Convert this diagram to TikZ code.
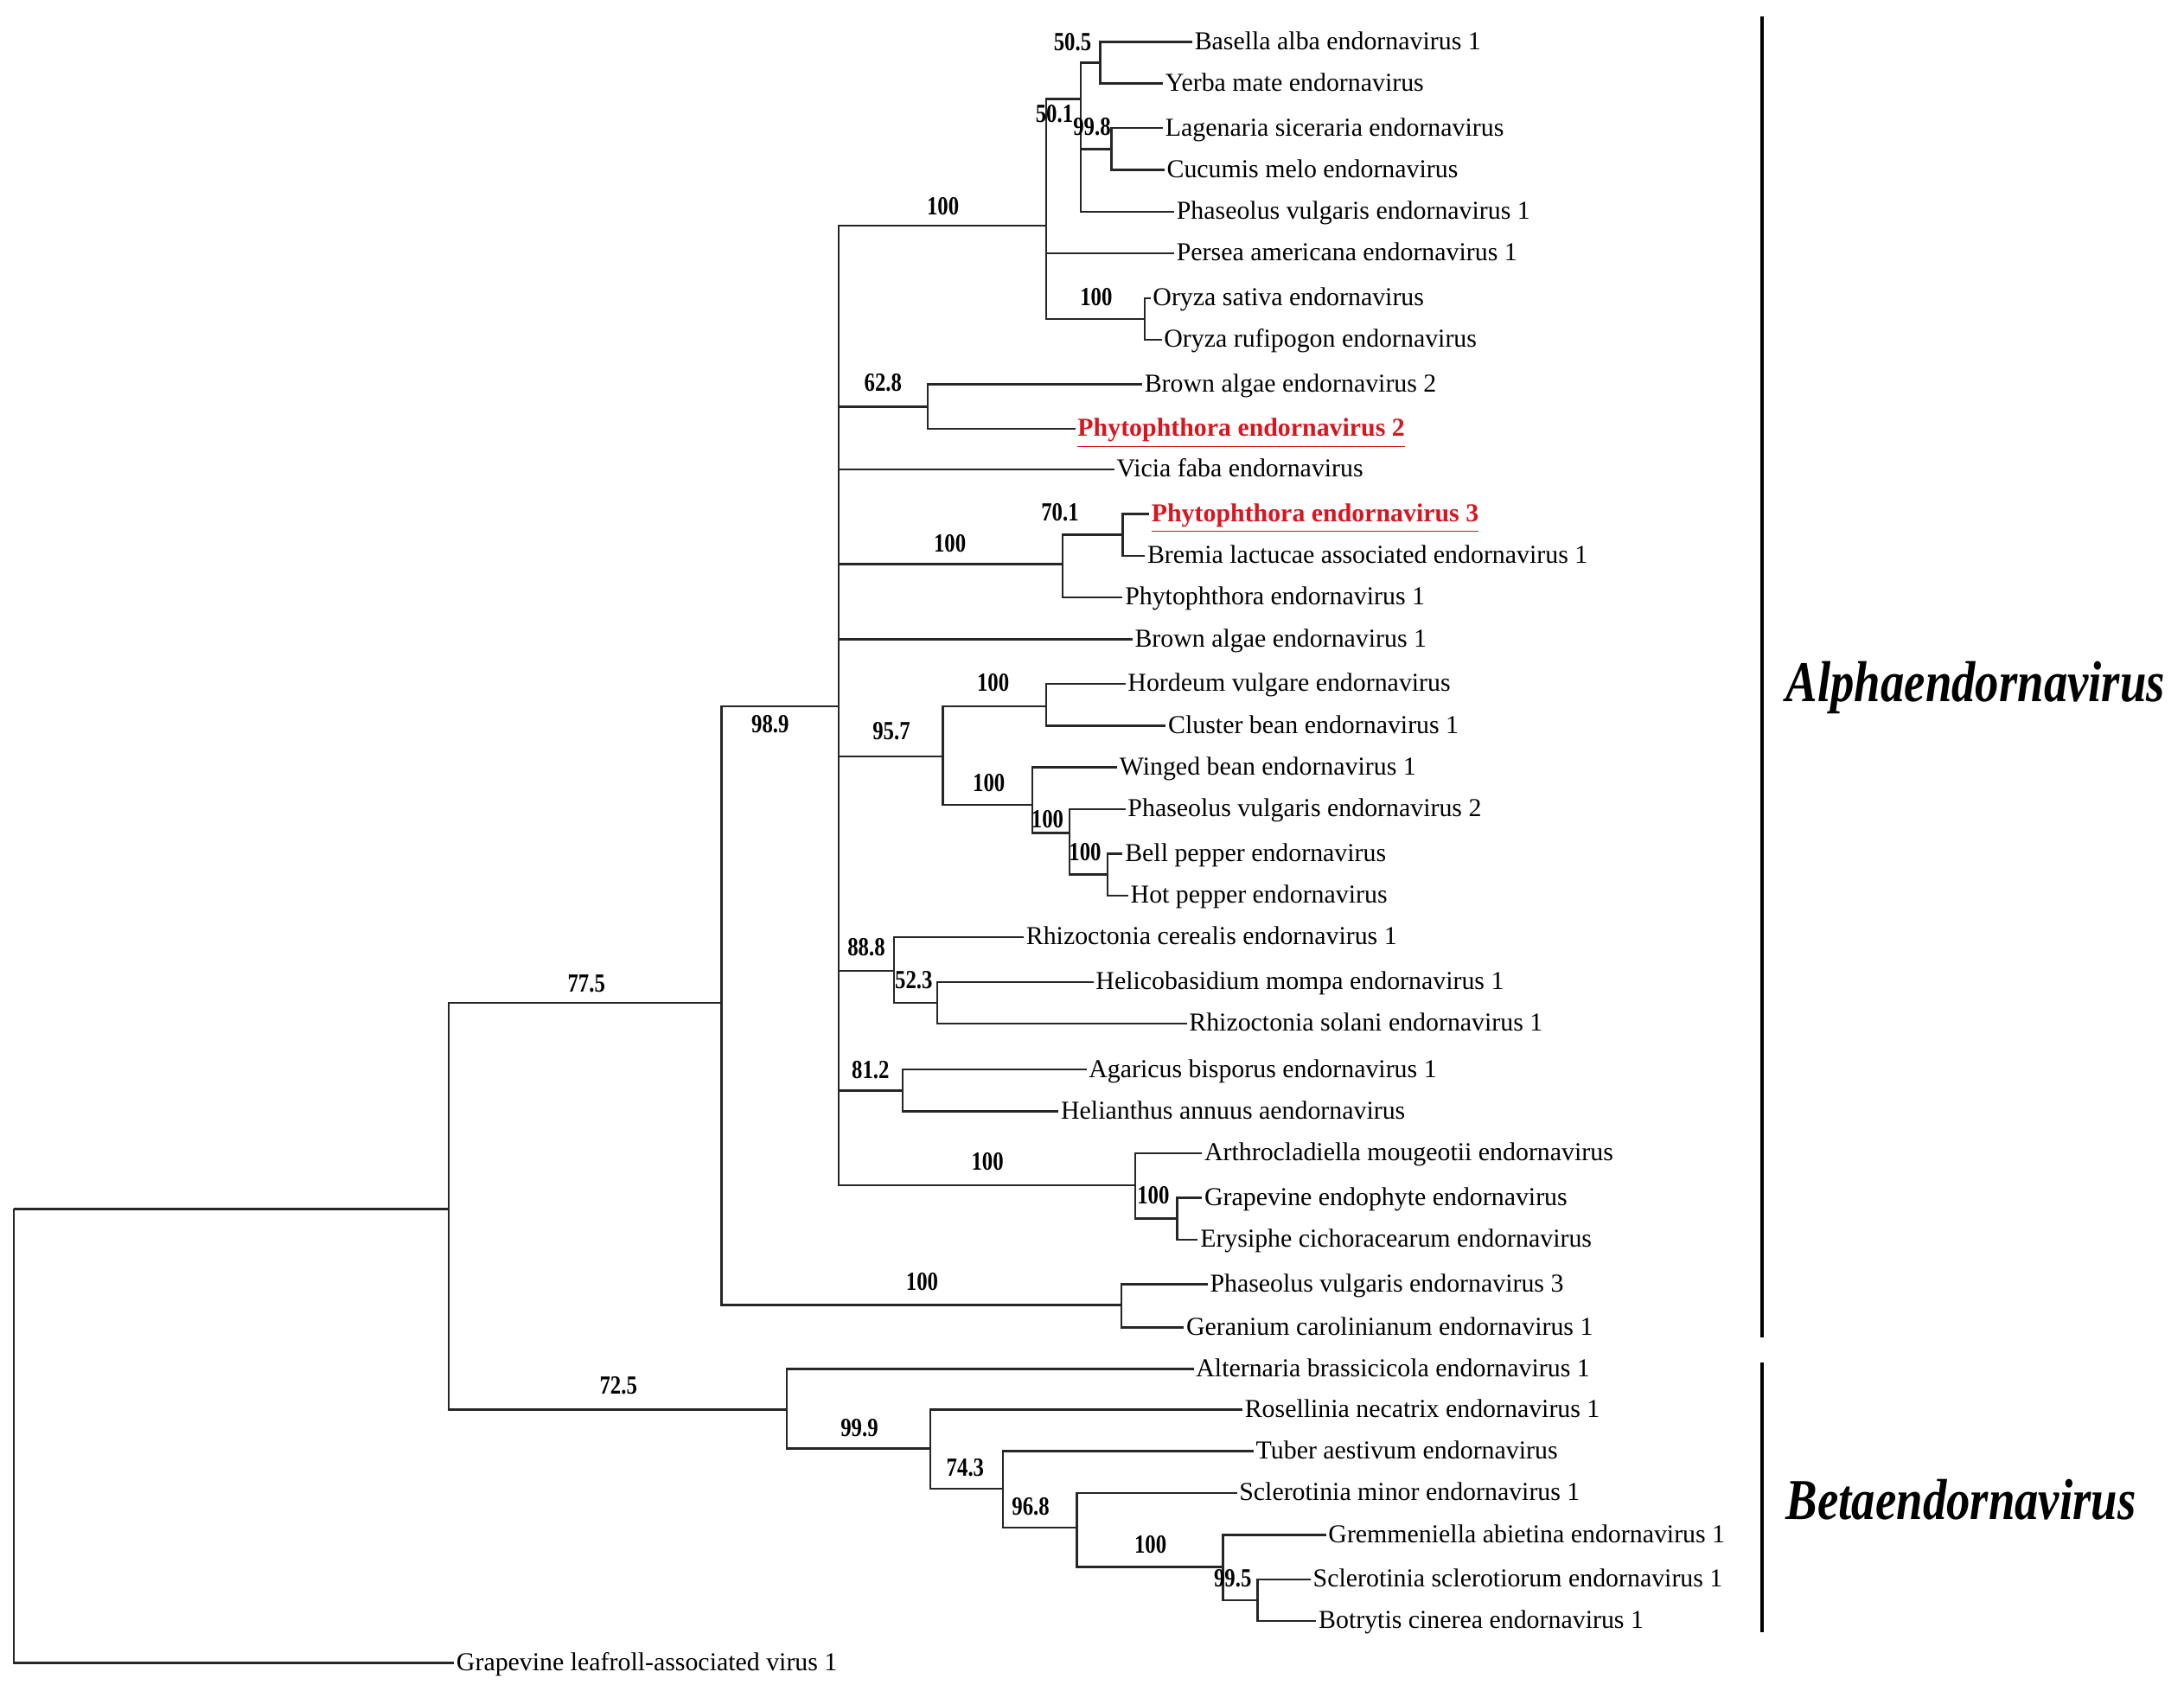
\documentclass[tikz,border=0pt]{standalone}
\usepackage{fontspec}
\setmainfont{Liberation Serif}
\definecolor{hl}{RGB}{215,22,30}
\begin{document}
\begin{tikzpicture}[x=0.01611cm,y=-0.01611cm,
  br/.style={draw=black!85,line width=0.7pt},
  leaf/.style={anchor=west,inner xsep=0.6pt,inner ysep=0pt,text height=0.7em,text depth=0.2em,font=\fontsize{8.5}{10}\selectfont},
  redleaf/.style={leaf,text=hl,font=\fontsize{8.5}{10}\selectfont\bfseries},
  bs/.style={inner sep=0pt,xscale=0.82,font=\fontsize{8.6}{10}\selectfont\bfseries},
  clade/.style={anchor=base west,inner sep=0pt,xscale=0.82,font=\fontsize{19}{22}\selectfont\bfseries\itshape},
  bar/.style={draw=black,line width=1.2pt}]
\useasboundingbox (0,0) rectangle (1568,1214);
% internal nodes
\coordinate (root) at (10,868);
\coordinate (nA) at (322,868);
\coordinate (n775) at (518,720);
\coordinate (P) at (602,507);
\coordinate (nTop) at (751,162);
\coordinate (n501) at (776,71);
\coordinate (n505) at (790,45);
\coordinate (n998) at (798,107);
\coordinate (nOry) at (822,229);
\coordinate (n628) at (666,292);
\coordinate (nPhy) at (763,405);
\coordinate (n701) at (806,384);
\coordinate (n957) at (677,543);
\coordinate (nHor) at (751,507);
\coordinate (nWing) at (741,578);
\coordinate (nPv2) at (768,598);
\coordinate (nPep) at (795,628);
\coordinate (n888) at (642,697);
\coordinate (n523) at (673,720);
\coordinate (n812) at (648,783);
\coordinate (nArth) at (815,851);
\coordinate (nGe) at (845,875);
\coordinate (nG) at (805,937);
\coordinate (n725) at (565,1012);
\coordinate (n999) at (668,1040);
\coordinate (n743) at (720,1069);
\coordinate (n968) at (773,1097);
\coordinate (n100b) at (878,1125);
\coordinate (n995) at (903,1149);
% leaves
\node[leaf] (L1) at (856,30) {Basella alba endornavirus 1};
\node[leaf] (L2) at (835,60) {Yerba mate endornavirus};
\node[leaf] (L3) at (835,92) {Lagenaria siceraria endornavirus};
\node[leaf] (L4) at (836,122) {Cucumis melo endornavirus};
\node[leaf] (L5) at (843,152) {Phaseolus vulgaris endornavirus 1};
\node[leaf] (L6) at (843,182) {Persea americana endornavirus 1};
\node[leaf] (L7) at (826,214) {Oryza sativa endornavirus};
\node[leaf] (L8) at (834,244) {Oryza rufipogon endornavirus};
\node[leaf] (L9) at (820,276) {Brown algae endornavirus 2};
\node[redleaf] (L10) at (772,308) {\underline{Phytophthora endornavirus 2}};
\node[leaf] (L11) at (800,337) {Vicia faba endornavirus};
\node[redleaf] (L12) at (825,369) {\underline{Phytophthora endornavirus 3}};
\node[leaf] (L13) at (822,399) {Bremia lactucae associated endornavirus 1};
\node[leaf] (L14) at (806,429) {Phytophthora endornavirus 1};
\node[leaf] (L15) at (813,459) {Brown algae endornavirus 1};
\node[leaf] (L16) at (808,491) {Hordeum vulgare endornavirus};
\node[leaf] (L17) at (837,521) {Cluster bean endornavirus 1};
\node[leaf] (L18) at (802,551) {Winged bean endornavirus 1};
\node[leaf] (L19) at (808,581) {Phaseolus vulgaris endornavirus 2};
\node[leaf] (L20) at (806,613) {Bell pepper endornavirus};
\node[leaf] (L21) at (810,643) {Hot pepper endornavirus};
\node[leaf] (L22) at (735,673) {Rhizoctonia cerealis endornavirus 1};
\node[leaf] (L23) at (785,705) {Helicobasidium mompa endornavirus 1};
\node[leaf] (L24) at (852,735) {Rhizoctonia solani endornavirus 1};
\node[leaf] (L25) at (780,768) {Agaricus bisporus endornavirus 1};
\node[leaf] (L26) at (760,798) {Helianthus annuus aendornavirus};
\node[leaf] (L27) at (863,828) {Arthrocladiella mougeotii endornavirus};
\node[leaf] (L28) at (863,860) {Grapevine endophyte endornavirus};
\node[leaf] (L29) at (860,890) {Erysiphe cichoracearum endornavirus};
\node[leaf] (L30) at (867,922) {Phaseolus vulgaris endornavirus 3};
\node[leaf] (L31) at (850,953) {Geranium carolinianum endornavirus 1};
\node[leaf] (L32) at (857,983) {Alternaria brassicicola endornavirus 1};
\node[leaf] (L33) at (892,1012) {Rosellinia necatrix endornavirus 1};
\node[leaf] (L34) at (900,1042) {Tuber aestivum endornavirus};
\node[leaf] (L35) at (888,1072) {Sclerotinia minor endornavirus 1};
\node[leaf] (L36) at (952,1102) {Gremmeniella abietina endornavirus 1};
\node[leaf] (L37) at (941,1134) {Sclerotinia sclerotiorum endornavirus 1};
\node[leaf] (L38) at (945,1164) {Botrytis cinerea endornavirus 1};
\node[leaf] (L39) at (326,1194) {Grapevine leafroll-associated virus 1};
% branches
\draw[br] (root) |- (nA);
\draw[br] (root) |- (L39.west);
\draw[br] (nA) |- (n775);
\draw[br] (nA) |- (n725);
\draw[br] (n775) |- (P);
\draw[br] (n775) |- (nG);
\draw[br] (P) |- (nTop);
\draw[br] (P) |- (n628);
\draw[br] (P) |- (L11.west);
\draw[br] (P) |- (nPhy);
\draw[br] (P) |- (L15.west);
\draw[br] (P) |- (n957);
\draw[br] (P) |- (n888);
\draw[br] (P) |- (n812);
\draw[br] (P) |- (nArth);
\draw[br] (nTop) |- (n501);
\draw[br] (nTop) |- (L6.west);
\draw[br] (nTop) |- (nOry);
\draw[br] (n501) |- (n505);
\draw[br] (n501) |- (n998);
\draw[br] (n501) |- (L5.west);
\draw[br] (n505) |- (L1.west);
\draw[br] (n505) |- (L2.west);
\draw[br] (n998) |- (L3.west);
\draw[br] (n998) |- (L4.west);
\draw[br] (nOry) |- (L7.west);
\draw[br] (nOry) |- (L8.west);
\draw[br] (n628) |- (L9.west);
\draw[br] (n628) |- (L10.west);
\draw[br] (nPhy) |- (n701);
\draw[br] (nPhy) |- (L14.west);
\draw[br] (n701) |- (L12.west);
\draw[br] (n701) |- (L13.west);
\draw[br] (n957) |- (nHor);
\draw[br] (n957) |- (nWing);
\draw[br] (nHor) |- (L16.west);
\draw[br] (nHor) |- (L17.west);
\draw[br] (nWing) |- (L18.west);
\draw[br] (nWing) |- (nPv2);
\draw[br] (nPv2) |- (L19.west);
\draw[br] (nPv2) |- (nPep);
\draw[br] (nPep) |- (L20.west);
\draw[br] (nPep) |- (L21.west);
\draw[br] (n888) |- (L22.west);
\draw[br] (n888) |- (n523);
\draw[br] (n523) |- (L23.west);
\draw[br] (n523) |- (L24.west);
\draw[br] (n812) |- (L25.west);
\draw[br] (n812) |- (L26.west);
\draw[br] (nArth) |- (L27.west);
\draw[br] (nArth) |- (nGe);
\draw[br] (nGe) |- (L28.west);
\draw[br] (nGe) |- (L29.west);
\draw[br] (nG) |- (L30.west);
\draw[br] (nG) |- (L31.west);
\draw[br] (n725) |- (L32.west);
\draw[br] (n725) |- (n999);
\draw[br] (n999) |- (L33.west);
\draw[br] (n999) |- (n743);
\draw[br] (n743) |- (L34.west);
\draw[br] (n743) |- (n968);
\draw[br] (n968) |- (L35.west);
\draw[br] (n968) |- (n100b);
\draw[br] (n100b) |- (L36.west);
\draw[br] (n100b) |- (n995);
\draw[br] (n995) |- (L37.west);
\draw[br] (n995) |- (L38.west);
% bootstrap values
\node[bs] (b1) at (770,30) {50.5};
\node[bs] (b2) at (757,82) {50.1};
\node[bs] (b3) at (784,91) {99.8};
\node[bs] (b4) at (677,148) {100};
\node[bs] (b5) at (787,213) {100};
\node[bs] (b6) at (634,275) {62.8};
\node[bs] (b7) at (761,368) {70.1};
\node[bs] (b8) at (682,390) {100};
\node[bs] (b9) at (553,520) {98.9};
\node[bs] (b10) at (713,490) {100};
\node[bs] (b11) at (640,525) {95.7};
\node[bs] (b12) at (710,562) {100};
\node[bs] (b13) at (752,588) {100};
\node[bs] (b14) at (779,612) {100};
\node[bs] (b15) at (622,680) {88.8};
\node[bs] (b16) at (656,704) {52.3};
\node[bs] (b17) at (625,768) {81.2};
\node[bs] (b18) at (709,834) {100};
\node[bs] (b19) at (828,858) {100};
\node[bs] (b20) at (421,706) {77.5};
\node[bs] (b21) at (662,920) {100};
\node[bs] (b22) at (444,995) {72.5};
\node[bs] (b23) at (617,1025) {99.9};
\node[bs] (b24) at (693,1054) {74.3};
\node[bs] (b25) at (740,1082) {96.8};
\node[bs] (b26) at (826,1109) {100};
\node[bs] (b27) at (885,1133) {99.5};
% clade bars and names
\coordinate (aT) at (1265,12);
\coordinate (aB) at (1265,960);
\coordinate (bT) at (1265,978);
\coordinate (bB) at (1265,1172);
\draw[bar] (aT) -- (aB);
\draw[bar] (bT) -- (bB);
\node[clade] (alpha) at (1282,504) {Alphaendornavirus};
\node[clade] (beta) at (1282,1091) {Betaendornavirus};
\end{tikzpicture}
\end{document}
